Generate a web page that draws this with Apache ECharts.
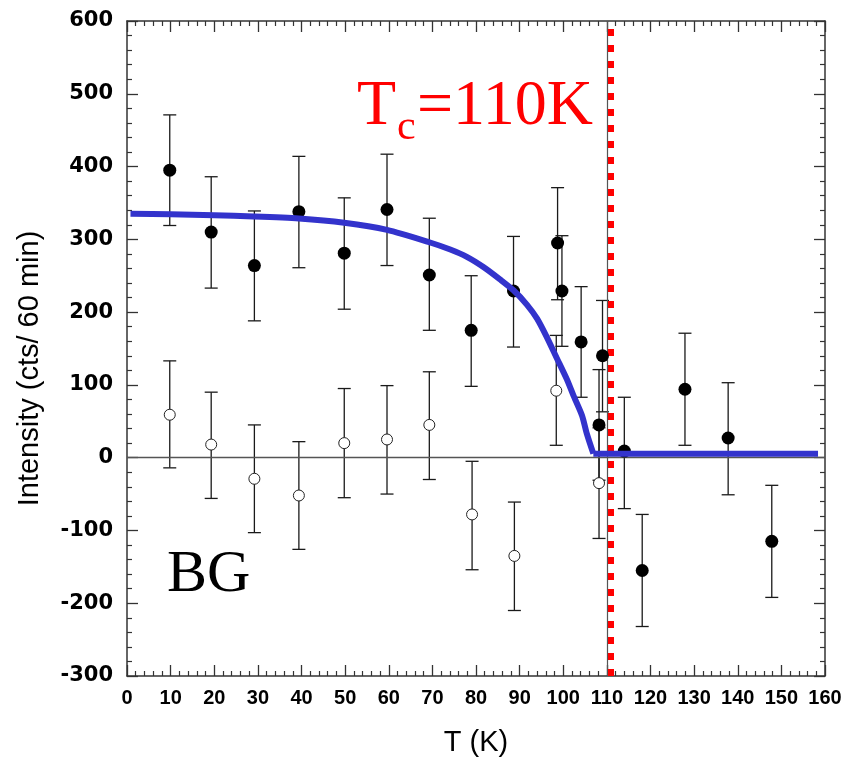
<!DOCTYPE html>
<html><head><meta charset="utf-8">
<script src="https://cdn.jsdelivr.net/npm/echarts/dist/echarts.min.js"></script>
<style>html,body{margin:0;padding:0;background:#fff}#c{width:859px;height:762px}</style>
</head><body><div id="c"></div>
<script>
// ---- data ----
const filledT  = [9.8, 19.3, 29.2, 39.4, 49.8, 59.6, 69.3, 78.9, 88.6, 98.7, 99.7, 104.1, 109.0, 108.2, 114.0, 118.1, 127.9, 137.8, 147.8];
const filledI  = [395, 310, 264, 338, 281, 341, 251, 175, 229, 295, 229, 159, 140, 45, 9, -155, 94, 27, -115];
const filledLo = [319, 233, 188, 261, 204, 264, 175, 98, 152, 217, 153, 83, 63, -31, -70, -232, 17, -51, -192];
const filledHi = [471, 386, 339, 414, 357, 417, 329, 250, 304, 371, 305, 235, 216, 121, 83, -78, 171, 103, -38];

const openT  = [9.8, 19.3, 29.2, 39.4, 49.8, 59.6, 69.3, 79.1, 88.8, 98.4, 108.2];
const openI  = [59, 18, -29, -52, 20, 25, 45, -78, -135, 92, -35];
const openLo = [-14, -56, -103, -126, -55, -50, -30, -154, -210, 17, -111];
const openHi = [133, 90, 45, 22, 95, 99, 118, -5, -61, 168, 41];

// order-parameter fit: curved part (below Tc) and flat background part
const fitT = [0.8, 10, 20, 29, 39.4, 49.8, 59.6, 69.3, 74.1, 77.9, 81.7, 85.5, 88.6, 91.7, 94, 96.2, 98.5, 100.8, 102.3, 104.3, 105.4, 106.9];
const fitI = [335, 334.5, 333, 331.5, 328.7, 322.8, 313, 296, 286, 276, 262, 245, 230, 210, 191, 166, 137, 108, 86, 58, 33, 5.5];
const flatT = [106.9, 158.4];
const flatI = [5.5, 5.5];

const xMin = 0, xMax = 160, xStep = 10;
const yMin = -300, yMax = 600, yStep = 100;
const refT = 110;      // thin reference line
const tcT = 111;       // red dashed Tc marker
const xTitle = 'T (K)';
const yTitle = 'Intensity (cts/ 60 min)';

// ---- build ----
const zip = (a, b) => a.map((v, i) => [v, b[i]]);
const errData = filledT.map((t, i) => [t, filledLo[i], filledHi[i]])
  .concat(openT.map((t, i) => [t, openLo[i], openHi[i]]));

const chart = echarts.init(document.getElementById('c'), null, {renderer: 'canvas'});
const axisLine = {show: true, onZero: false, lineStyle: {color: '#333', width: 1.5}};
const tick = {show: true, inside: true, length: 11, lineStyle: {color: '#333', width: 1.3}};
const minor = {show: true, splitNumber: 5, length: 5, lineStyle: {color: '#333', width: 1.2}};
const fitStyle = {color: '#3333CC', width: 6, join: 'round'};

chart.setOption({
  animation: false,
  backgroundColor: '#fff',
  grid: {left: 127, right: 34, top: 21, bottom: 86},
  xAxis: [
    {type: 'value', min: xMin, max: xMax, interval: xStep, position: 'bottom',
     axisLine, axisTick: tick, minorTick: minor, splitLine: {show: false}, minorSplitLine: {show: false},
     axisLabel: {color: '#000', fontFamily: 'Liberation Sans', fontWeight: 'bold', fontSize: 20, margin: 12},
     name: xTitle, nameLocation: 'middle', nameGap: 52,
     nameTextStyle: {color: '#000', fontFamily: 'Liberation Sans', fontSize: 29}},
    {type: 'value', min: xMin, max: xMax, interval: xStep, position: 'top',
     axisLine, axisTick: tick, minorTick: minor, splitLine: {show: false}, axisLabel: {show: false}}
  ],
  yAxis: [
    {type: 'value', min: yMin, max: yMax, interval: yStep, position: 'left',
     axisLine, axisTick: tick, minorTick: minor, splitLine: {show: false},
     axisLabel: {color: '#000', fontFamily: 'DejaVu Sans', fontWeight: 'bold', fontSize: 21, margin: 14},
     name: yTitle, nameLocation: 'middle', nameGap: 83,
     nameTextStyle: {color: '#000', fontFamily: 'Liberation Sans', fontSize: 29, padding: [0, 40, 0, 0]}},
    {type: 'value', min: yMin, max: yMax, interval: yStep, position: 'right',
     axisLine, axisTick: tick, minorTick: minor, splitLine: {show: false}, axisLabel: {show: false}}
  ],
  series: [
    {type: 'line', data: [], z: 1, silent: true,
     markLine: {silent: true, symbol: 'none', label: {show: false}, animation: false,
       data: [
         {yAxis: 0, lineStyle: {color: '#555', width: 1.3, type: 'solid'}},
         {xAxis: refT, lineStyle: {color: '#555', width: 1.2, type: 'solid'}}
       ]}},
    {type: 'custom', z: 3, data: errData, silent: true,
     renderItem: function (params, api) {
       const x = api.value(0);
       const lo = api.coord([x, api.value(1)]);
       const hi = api.coord([x, api.value(2)]);
       const w = 6.5;
       const st = {stroke: '#1a1a1a', lineWidth: 1.3};
       return {type: 'group', children: [
         {type: 'line', shape: {x1: lo[0], y1: lo[1], x2: hi[0], y2: hi[1]}, style: st},
         {type: 'line', shape: {x1: lo[0] - w, y1: lo[1], x2: lo[0] + w, y2: lo[1]}, style: st},
         {type: 'line', shape: {x1: hi[0] - w, y1: hi[1], x2: hi[0] + w, y2: hi[1]}, style: st}
       ]};
     }},
    {type: 'scatter', z: 4, data: zip(openT, openI), symbol: 'circle', symbolSize: 11,
     itemStyle: {color: '#fff', borderColor: '#222', borderWidth: 1, opacity: 1}},
    {type: 'scatter', z: 5, data: zip(filledT, filledI), symbol: 'circle', symbolSize: 13,
     itemStyle: {color: '#000', opacity: 1}},
    {type: 'line', z: 6, data: zip(fitT, fitI), showSymbol: false, symbol: 'none', smooth: 0.25,
     lineStyle: fitStyle},
    {type: 'line', z: 6, data: zip(flatT, flatI), showSymbol: false, symbol: 'none',
     lineStyle: fitStyle},
    {type: 'line', data: [], z: 7, silent: true,
     markLine: {silent: true, symbol: 'none', label: {show: false}, animation: false,
       data: [{xAxis: tcT, lineStyle: {color: '#ff0000', width: 6, type: [7, 9], cap: 'butt'}}]}}
  ],
  graphic: [
    {type: 'text', x: 357, y: 107, z: 10, style: {text: 'T', fill: '#ff0000', fontFamily: 'Liberation Serif', fontSize: 64, verticalAlign: 'middle'}},
    {type: 'text', x: 397, y: 128, z: 10, style: {text: 'c', fill: '#ff0000', fontFamily: 'Liberation Serif', fontSize: 42, verticalAlign: 'middle'}},
    {type: 'text', x: 417, y: 107, z: 10, style: {text: '=110K', fill: '#ff0000', fontFamily: 'Liberation Serif', fontSize: 64, verticalAlign: 'middle'}},
    {type: 'text', x: 167, y: 575, z: 10, style: {text: 'BG', fill: '#000', fontFamily: 'Liberation Serif', fontSize: 60, verticalAlign: 'middle'}}
  ]
});
</script>
</body></html>
